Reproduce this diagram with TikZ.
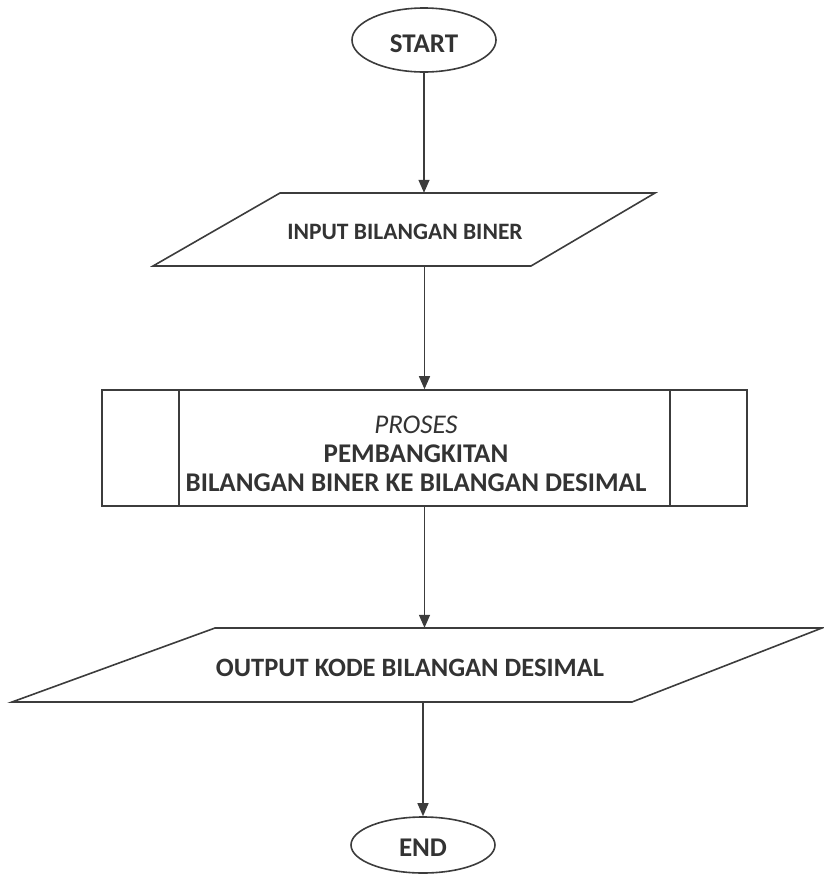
\documentclass[tikz,border=0pt]{standalone}
\usepackage{fontspec}
\setmainfont{Carlito}
\usetikzlibrary{shapes.geometric,arrows.meta}
\definecolor{ink}{HTML}{3C3C3C}
\definecolor{txt}{HTML}{333333}
\tikzset{
  lbl/.style={font=\fontsize{27}{30}\selectfont\bfseries, text=txt, align=center, inner sep=0pt},
  terminal/.style={ellipse, draw=ink, line width=1.6pt, inner sep=0pt},
  frame/.style={draw=ink, line width=1.6pt},
  flow/.style={draw=ink, line width=1.4pt, -{Triangle[length=13pt,width=11pt]}},
}
\begin{document}
\begin{tikzpicture}[x=1pt,y=-1pt]
\useasboundingbox (0,0) rectangle (823,879);

% terminals
\node[terminal, minimum width=144pt, minimum height=64pt] (start) at (424,40) {};
\node[lbl] (starttext) at (424,44) {START};
\node[terminal, minimum width=144pt, minimum height=56pt] (end) at (423,845) {};
\node[lbl] (endtext) at (423,848) {END};

% input parallelogram
\node[minimum width=502pt, minimum height=73pt, inner sep=0pt] (input) at (404,229.5) {};
\draw[frame] (280,193) -- (655,193) -- (531,266) -- (153,266) -- cycle;
\node[lbl, font=\fontsize{23.5}{28}\selectfont\bfseries] (inputtext) at (405,232) {INPUT BILANGAN BINER};

% predefined process box
\node[draw=ink, line width=1.6pt, minimum width=645pt, minimum height=116pt, inner sep=0pt] (proc) at (424.5,448) {};
\draw[frame] (179,390) -- (179,506);
\draw[frame] (670,390) -- (670,506);
\node[lbl, font=\fontsize{27}{29}\selectfont\bfseries] (proctext) at (416,454) {\textit{\mdseries PROSES}\\PEMBANGKITAN\\BILANGAN BINER KE BILANGAN DESIMAL};

% output parallelogram
\node[minimum width=810pt, minimum height=74pt, inner sep=0pt] (output) at (417,665) {};
\draw[frame] (215,628) -- (822,628) -- (632,702) -- (12,702) -- cycle;
\node[lbl, font=\fontsize{26.5}{30}\selectfont\bfseries] (outputtext) at (410,668) {OUTPUT KODE BILANGAN DESIMAL};

% connectors
\draw[flow] (start.south) -- (start.south |- input.north);
\draw[flow] (proc.north |- input.south) -- (proc.north);
\draw[flow] (proc.south) -- (proc.south |- output.north);
\draw[flow] (end.north |- output.south) -- (end.north);
\end{tikzpicture}
\end{document}
